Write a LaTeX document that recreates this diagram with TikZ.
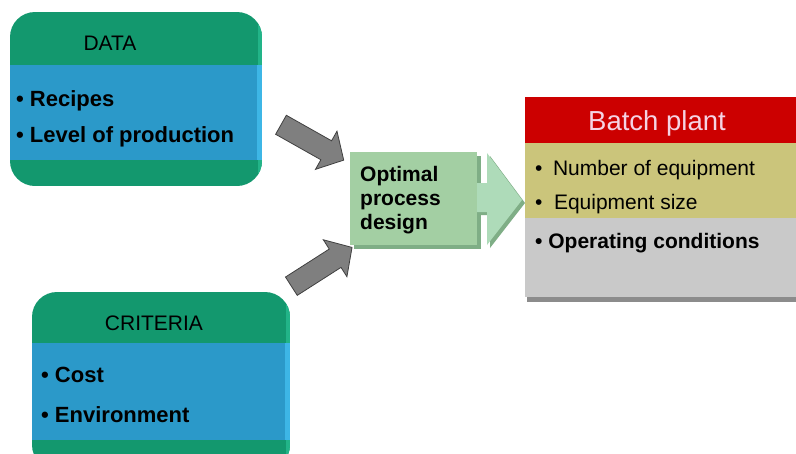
\documentclass[tikz,border=0pt]{standalone}
\usepackage{fontspec}
\setmainfont{Liberation Sans}
\usetikzlibrary{shapes.arrows,positioning}

\definecolor{boxgreen}{HTML}{13986E}
\definecolor{boxgreenlt}{HTML}{22B488}
\definecolor{boxblue}{HTML}{2B99C9}
\definecolor{boxbluelt}{HTML}{3DB6E6}
\definecolor{optgreen}{HTML}{A3CFA3}
\definecolor{optgreendk}{HTML}{7FAE86}
\definecolor{headgreen}{HTML}{AEDBB9}
\definecolor{plantred}{HTML}{CC0000}
\definecolor{plantpink}{HTML}{F5D3E3}
\definecolor{plantolive}{HTML}{CBC57B}
\definecolor{plantgray}{HTML}{C9C9C9}
\definecolor{arrowgray}{HTML}{7F7F7F}

\tikzset{
  boxtitle/.style={inner sep=0pt, anchor=base, font=\fontsize{21}{25}\selectfont},
  item/.style={inner sep=0pt, anchor=base west, font=\bfseries\fontsize{22}{26}\selectfont},
  plantitem/.style={inner sep=0pt, anchor=base west, font=\fontsize{21}{25}\selectfont},
  feed/.style={single arrow, draw=black!75, fill=arrowgray, line width=0.8pt,
    inner xsep=0pt, inner ysep=10.5pt, single arrow head extend=11pt,
    single arrow tip angle=95, minimum height=72pt},
}

\begin{document}
\begin{tikzpicture}[x=1pt,y=-1pt]
\clip (0,0) rectangle (796,453);
\fill[white] (0,0) rectangle (796,453);

% DATA box
\begin{scope}
  \clip[rounded corners=25pt] (10,12) rectangle (262,186);
  \fill[boxgreen] (10,12) rectangle (262,186);
  \fill[boxgreenlt] (258,12) rectangle (262,186);
  \fill[boxblue] (10,65) rectangle (262,160);
  \fill[boxbluelt] (257,65) rectangle (262,160);
\end{scope}
\node[boxtitle] (datatitle) at (110,50) {DATA};
\node[item] (recipes) at (16,106) {• Recipes};
\node[item] (level) at (16,142) {• Level of production};

% CRITERIA box
\begin{scope}
  \clip[rounded corners=25pt] (32,292) rectangle (290,470);
  \fill[boxgreen] (32,292) rectangle (290,470);
  \fill[boxgreenlt] (286,292) rectangle (290,470);
  \fill[boxblue] (32,343) rectangle (290,440);
  \fill[boxbluelt] (285,343) rectangle (290,440);
\end{scope}
\node[boxtitle] (crittitle) at (154,330) {CRITERIA};
\node[item] (cost) at (41,382) {• Cost};
\node[item] (envir) at (41,422) {• Environment};

% optimal process design
\fill[optgreendk] (354,156) rectangle (481,249);
\fill[optgreendk] (480,186) -- (490,186) -- (490,156) -- (525,203) -- (490,248) -- (490,215) -- (480,215) -- cycle;
\node[fill=optgreen, minimum width=127pt, minimum height=93pt, inner sep=0pt] (design) at (413.5,198.5) {};
\fill[headgreen] (477,183) -- (487,183) -- (487,153) -- (522,200) -- (487,245) -- (487,212) -- (477,212) -- cycle;
\node[inner sep=0pt, anchor=west, align=left, font=\bfseries\fontsize{21}{24}\selectfont]
  (designtext) at (360,200.5) {Optimal\\process\\design};

% feeding arrows
\node[feed, rotate=-29.4] (feeddata) at (308,140) {};
\node[feed, rotate=32.6] (feedcrit) at (317.5,269.5) {};

% Batch plant
\fill[black!45] (527,297) rectangle (796,302);
\fill[plantgray] (525,218) rectangle (796,297);
\fill[plantolive] (525,143) rectangle (796,218);
\fill[plantred] (525,97) rectangle (796,143);
\node[inner sep=0pt, anchor=base, text=plantpink, font=\fontsize{27.5}{30}\selectfont]
  (planttitle) at (657,130) {Batch plant};
\node[plantitem] (number) at (535,175) {•\hspace{10.5pt}Number of equipment};
\node[plantitem] (eqsize) at (535,209) {•\hspace{11.5pt}Equipment size};
\node[plantitem, font=\bfseries\fontsize{21}{25}\selectfont] (opcond) at (535,248) {• Operating conditions};
\end{tikzpicture}
\end{document}
